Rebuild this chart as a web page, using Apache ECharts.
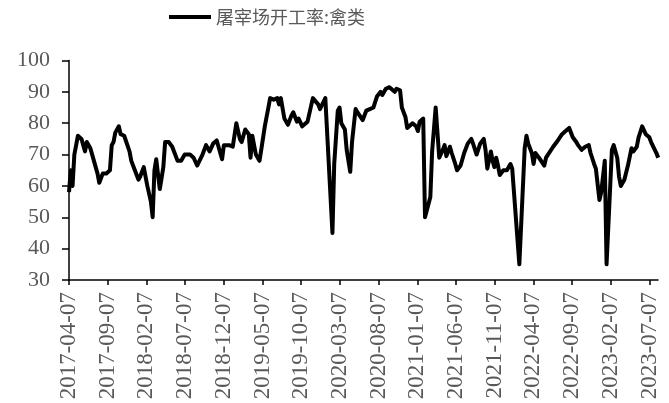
<!DOCTYPE html>
<html>
<head>
<meta charset="utf-8">
<script src="https://cdn.jsdelivr.net/npm/echarts@6/dist/echarts.min.js"></script>
<style>
  html, body { margin: 0; padding: 0; background: #fff; }
  #chart { width: 669px; height: 403px; }
</style>
</head>
<body>
<div id="chart"></div>
<script>
// weeks since 2017-04-07 and the read-off rate at each vertex
var weeks = [0, 1, 2, 3, 4, 5, 6, 7, 9, 10, 12, 14, 16, 17, 18, 19, 21, 23, 24, 25, 26, 28, 29, 31, 32, 34, 35, 37, 39, 40,
  42, 43, 44, 46, 47, 48, 49, 50, 51, 53, 54, 56, 58, 59, 61, 63, 65, 68, 70, 72, 73, 75, 77, 78, 79, 81, 83, 84, 86, 87,
  90, 92, 94, 96, 97, 99, 101, 102, 103, 105, 107, 108, 110, 112, 113, 115, 117, 118, 119, 121, 123, 125, 126, 128, 129, 131, 132, 134, 135, 137,
  138, 140, 141, 142, 144, 145, 148, 149, 151, 152, 153, 155, 156, 158, 159, 161, 162, 165, 167, 169, 171, 173, 175, 176, 178, 180, 181, 183, 184, 186,
  187, 189, 190, 191, 193, 195, 196, 197, 199, 200, 203, 204, 206, 208, 210, 211, 212, 214, 215, 217, 218, 220, 222, 224, 226, 227, 229, 231, 233, 234,
  235, 237, 238, 239, 240, 241, 242, 244, 246, 248, 249, 253, 256, 257, 258, 260, 261, 262, 264, 265, 267, 268, 272, 274, 275, 277, 279, 281, 282, 283,
  285, 286, 288, 290, 292, 293, 295, 296, 298, 299, 301, 302, 305, 306, 308, 309, 310, 312, 314, 316, 317, 319, 320, 322, 324, 326, 327, 328, 330, 331];
var rates = [58, 65, 60, 70, 70, 76, 76, 75, 71, 74, 72, 68, 64, 61, 61, 64, 64, 65, 73, 74, 77, 79, 76.5, 76, 76, 71, 68, 65, 62, 63,
  66, 66, 60, 55, 50, 65, 68.5, 69, 59, 66, 74, 74, 72.5, 72, 68, 68, 70, 70, 69, 66.5, 67, 70, 73, 72, 71, 73.5, 74.5, 74, 68.5, 73,
  73, 72.5, 80, 75, 74, 78, 76.5, 69, 76, 70, 68, 71.5, 79, 85, 88, 87.5, 88, 86, 88, 81.5, 79.5, 82.5, 83.5, 80.5, 81.5, 79, 78.5, 80.5, 81, 88,
  87.5, 86, 84.5, 84.5, 88, 87.5, 45, 67, 84, 85, 80, 78, 71.5, 64.5, 74, 84.5, 83.5, 81, 84, 84.5, 85, 88.5, 90, 89, 91, 91.5, 91, 90, 91, 90.5,
  85, 82, 78.5, 79, 80, 79, 77.5, 80.5, 81.5, 50, 56.5, 71, 85, 69, 71.5, 73, 69.5, 72.5, 70.5, 67, 65, 66.5, 70.5, 73.5, 75, 73.5, 70, 73.5, 75, 71.5,
  65.5, 71, 68, 66, 69, 66.5, 63.5, 65, 65, 67, 65.5, 35, 72, 76, 73.5, 70.5, 67, 70.5, 69, 69.5, 66.5, 69, 72.5, 74, 74, 76.5, 77.5, 78.5, 78.5, 75.5,
  74, 73, 71.5, 72.5, 73, 70.5, 67, 65.5, 55.5, 58, 68, 35, 71.5, 73, 69, 63, 60, 62, 66.5, 72, 71, 72.5, 75.5, 79, 76.5, 75.5, 74, 74.5, 70.5, 69];
var xLabels = ["2017-04-07", "2017-09-07", "2018-02-07", "2018-07-07", "2018-12-07", "2019-05-07", "2019-10-07", "2020-03-07",
  "2020-08-07", "2021-01-07", "2021-06-07", "2021-11-07", "2022-04-07", "2022-09-07", "2023-02-07", "2023-07-07"];
var seriesName = "屠宰场开工率:禽类";

// x axis runs in months since 2017-04-07, a label every 5 months
var monthTicks = xLabels.map(function (s, i) { return i * 5; });
var seriesData = weeks.map(function (w, i) { return [w * 7 / 30.4375, rates[i]]; });

var myChart = echarts.init(document.getElementById("chart"));
var option = {
  animation: false,
  legend: {
    left: 164,
    top: 3,
    icon: "rect",
    itemWidth: 42,
    itemHeight: 4,
    itemGap: 4,
    textStyle: { color: "#595959", fontSize: 18, fontFamily: "Noto Sans CJK SC" },
    data: [seriesName]
  },
  grid: { left: 69, right: 11, top: 60.5, bottom: 123 },
  xAxis: {
    type: "value",
    min: 0,
    max: 76.1,
    splitLine: { show: false },
    axisLine: { lineStyle: { color: "#000", width: 1.5 } },
    axisTick: { customValues: monthTicks, length: 5, lineStyle: { color: "#000", width: 1.5 } },
    axisLabel: {
      customValues: monthTicks,
      rotate: 90,
      margin: 12,
      color: "#595959",
      fontSize: 23,
      fontFamily: "Liberation Serif",
      formatter: function (v) { return xLabels[Math.round(v / 5)]; }
    }
  },
  yAxis: {
    type: "value",
    min: 30,
    max: 100,
    interval: 10,
    splitLine: { show: false },
    axisLine: { show: true, lineStyle: { color: "#000", width: 1.5 } },
    axisTick: { show: true, length: 7, lineStyle: { color: "#000", width: 1.5 } },
    axisLabel: { margin: 19, color: "#595959", fontSize: 22, fontFamily: "Liberation Serif" }
  },
  series: [
    {
      name: seriesName,
      type: "line",
      data: seriesData,
      symbol: "none",
      itemStyle: { color: "#000" },
      lineStyle: { color: "#000", width: 4, join: "round" }
    }
  ]
};
myChart.setOption(option);
</script>
</body>
</html>
